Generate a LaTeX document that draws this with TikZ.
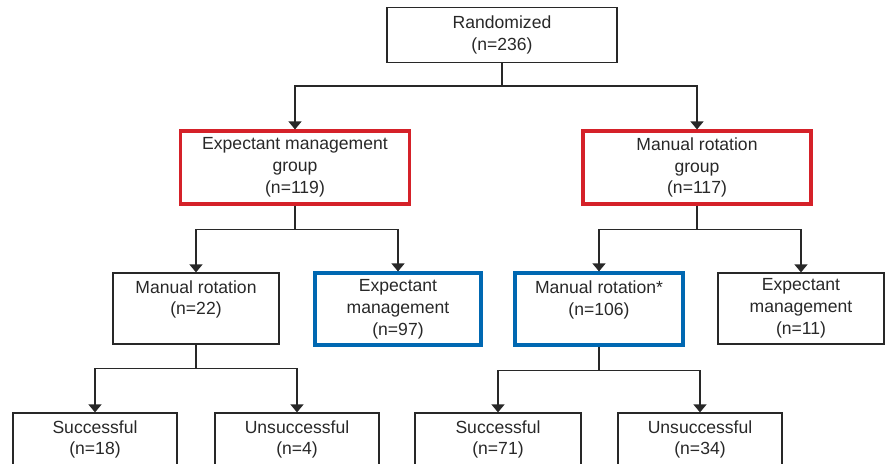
\documentclass[tikz,border=0pt]{standalone}
\usepackage{fontspec}
\setmainfont{Liberation Sans}
\usetikzlibrary{arrows.meta}
\definecolor{grpred}{RGB}{213,33,41}
\definecolor{armblue}{RGB}{0,104,178}
\definecolor{ink}{RGB}{40,40,40}

\begin{document}
\begin{tikzpicture}[x=0.02cm,y=-0.02cm]
    \tikzstyle{every node}+=[inner sep=0pt, text=ink, font=\fontsize{10}{12.4}\selectfont, align=center]
    \tikzstyle{plainbox}=[draw=ink, line width=0.7pt, rectangle, minimum height=1.42cm]
    \tikzstyle{groupbox}=[draw=grpred, line width=1.8pt, rectangle, minimum height=1.46cm]
    \tikzstyle{armbox}=[draw=armblue, line width=1.8pt, rectangle, minimum height=1.44cm]
    \tikzstyle{link}=[draw=ink, line width=0.7pt]
    \tikzstyle{arr}=[link, -{Triangle[length=0.16cm,width=0.26cm]}]
    \useasboundingbox (0,0) rectangle (885,463);
    \clip (0,0) rectangle (885,463);
    % top
    \node [plainbox, minimum width=4.6cm, minimum height=1.1cm] (rand) at (502,35) {Randomized\\(n=236)};
    % groups
    \node [groupbox, minimum width=4.58cm] (emg) at (295,167.5) {Expectant management\\group\\(n=119)};
    \node [groupbox, minimum width=4.56cm] (mrg) at (697,167.5) {Manual rotation\\group\\(n=117)};
    % treatments
    \node [plainbox, minimum width=3.32cm] (mrA) at (196,308.5) {Manual rotation\\(n=22)\\\mbox{}};
    \node [armbox, minimum width=3.32cm] (emA) at (398,309) {Expectant\\management\\(n=97)};
    \node [armbox, minimum width=3.36cm] (mrB) at (599,309) {Manual rotation*\\(n=106)\\\mbox{}};
    \node [plainbox, minimum width=3.32cm] (emB) at (801,308.5) {Expectant\\management\\(n=11)};
    % outcomes
    \node [plainbox, minimum width=3.28cm] (sucA) at (95,448.5) {Successful\\(n=18)\\\mbox{}};
    \node [plainbox, minimum width=3.28cm] (unsA) at (297,448.5) {Unsuccessful\\(n=4)\\\mbox{}};
    \node [plainbox, minimum width=3.32cm] (sucB) at (498,448.5) {Successful\\(n=71)\\\mbox{}};
    \node [plainbox, minimum width=3.28cm] (unsB) at (700,448.5) {Unsuccessful\\(n=34)\\\mbox{}};
    % connectors
    \draw [link] (rand.south) -- ++(0,23) coordinate (jr);
    \draw [arr] (jr) -| (emg.north);
    \draw [arr] (jr) -| (mrg.north);
    \draw [link] (emg.south) -- ++(0,24) coordinate (je);
    \draw [arr] (je) -| (mrA.north);
    \draw [arr] (je) -| (emA.north);
    \draw [link] (mrg.south) -- ++(0,24) coordinate (jm);
    \draw [arr] (jm) -| (mrB.north);
    \draw [arr] (jm) -| (emB.north);
    \draw [link] (mrA.south) -- ++(0,24) coordinate (ja);
    \draw [arr] (ja) -| (sucA.north);
    \draw [arr] (ja) -| (unsA.north);
    \draw [link] (mrB.south) -- ++(0,24) coordinate (jb);
    \draw [arr] (jb) -| (sucB.north);
    \draw [arr] (jb) -| (unsB.north);
\end{tikzpicture}
\end{document}
